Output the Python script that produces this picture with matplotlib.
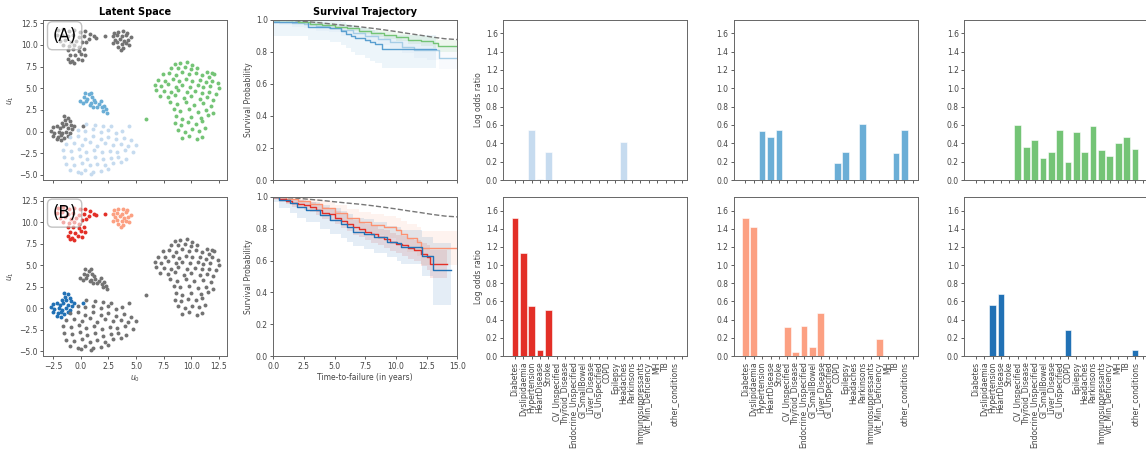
import numpy as np
import matplotlib
matplotlib.use("Agg")
import matplotlib.pyplot as plt

# ---- latent space clusters (u0, u1), same embedding in both rows ----
pts_topleft = [(-2.1, 11.7), (-1.6, 11.8), (-1.1, 11.6), (-0.6, 11.7), (-0.1, 11.5), (0.4, 11.6), (0.8, 11.3),
               (1.2, 11.0), (1.4, 10.8), (-2.2, 11.1), (-1.7, 11.2), (-1.2, 11.0), (-0.7, 11.1), (-0.2, 10.9),
               (0.3, 11.0), (0.7, 10.7), (-1.9, 10.5), (-1.4, 10.6), (-0.9, 10.4), (-0.4, 10.5), (0.1, 10.3),
               (0.5, 10.4), (-1.6, 10.0), (-1.1, 9.9), (-0.6, 10.0), (-0.2, 9.8), (-1.2, 9.4), (-0.7, 9.5),
               (-0.2, 9.3), (0.3, 9.5), (-1.0, 8.9), (-0.5, 8.8), (0.0, 9.0), (0.4, 8.9), (-1.2, 8.4),
               (-0.8, 8.2), (-0.3, 8.4), (0.1, 8.3), (-1.0, 8.0), (-0.6, 7.9), (2.2, 11.0)]
pts_topmid = [(3.0, 11.4), (3.4, 11.5), (3.8, 11.6), (4.2, 11.4), (2.9, 11.0), (3.3, 11.1), (3.7, 11.0),
              (4.1, 11.2), (4.5, 10.9), (3.1, 10.6), (3.5, 10.7), (3.9, 10.5), (4.3, 10.6), (2.9, 10.2),
              (3.3, 10.3), (3.7, 10.1), (4.1, 10.2), (3.4, 9.8), (3.8, 9.7), (4.4, 10.0), (3.6, 9.4)]
pts_leftmid = [(-1.5, 1.8), (-1.2, 1.6), (-1.4, 1.3), (-1.0, 1.2), (-1.7, 1.0), (-1.3, 0.9), (-0.9, 0.8),
               (-2.5, 0.5), (-2.2, 0.6), (-1.9, 0.4), (-1.6, 0.6), (-1.2, 0.4), (-0.8, 0.3), (-2.7, 0.1),
               (-2.4, -0.1), (-2.0, 0.0), (-1.7, -0.2), (-1.3, 0.0), (-1.0, -0.2), (-2.5, -0.5), (-2.1, -0.6),
               (-1.8, -0.4), (-1.5, -0.7), (-1.2, -0.5), (-2.2, -0.9), (-1.8, -1.0), (-0.6, 0.6), (0.2, 0.6)]
pts_small = [(0.4, 4.5), (0.7, 4.3), (0.9, 4.5), (0.3, 4.0), (0.6, 3.8), (1.0, 4.0), (1.2, 3.7), (-0.1, 3.5),
             (0.2, 3.3), (0.5, 3.5), (0.9, 3.3), (1.3, 3.4), (1.6, 3.2), (1.8, 3.5), (1.5, 2.9), (1.9, 2.8),
             (2.1, 3.0), (2.3, 2.6), (2.0, 2.4), (2.4, 2.2), (0.8, 3.1), (1.1, 2.9)]
pts_blob = [(0.5, 0.9), (1.3, 0.8), (2.0, 0.7), (2.7, 0.6), (4.4, 0.65), (-0.3, 0.2), (0.4, 0.1), (1.1, 0.3),
            (1.8, 0.0), (2.5, 0.2), (3.2, -0.1), (3.7, 0.1), (-1.0, -0.6), (-0.3, -0.5), (0.4, -0.8),
            (1.1, -0.5), (1.8, -0.8), (2.5, -0.6), (3.2, -0.9), (3.9, -0.7), (4.5, -1.0), (-1.3, -1.4),
            (-0.6, -1.3), (0.1, -1.5), (0.8, -1.2), (1.5, -1.6), (2.2, -1.3), (2.9, -1.5), (3.6, -1.4),
            (4.3, -1.6), (5.0, -1.5), (-1.6, -2.1), (-0.9, -2.2), (-0.2, -2.0), (0.5, -2.3), (1.2, -2.1),
            (1.9, -2.4), (2.6, -2.2), (3.3, -2.3), (4.0, -2.1), (4.7, -2.4), (-1.5, -2.9), (-0.8, -3.0),
            (-0.1, -2.8), (0.6, -3.1), (1.3, -2.9), (2.0, -3.2), (2.7, -3.0), (3.4, -2.9), (4.1, -3.1),
            (-1.3, -3.7), (-0.6, -3.8), (0.1, -3.6), (0.8, -3.9), (1.5, -3.7), (2.2, -3.9), (2.9, -3.6),
            (3.6, -3.5), (-1.0, -4.4), (-0.3, -4.6), (0.4, -4.4), (1.1, -4.7), (1.8, -4.5), (2.5, -4.3),
            (0.0, -4.8), (0.9, -4.9)]
pts_right = [(8.5, 7.8), (9.0, 7.9), (9.6, 8.0), (10.1, 7.7), (8.2, 7.3), (8.8, 7.4), (9.4, 7.5), (10.0, 7.2),
             (10.5, 7.4), (11.4, 6.9), (11.9, 6.8), (7.4, 6.6), (8.0, 6.8), (8.6, 6.5), (9.2, 6.9), (9.8, 6.6),
             (10.4, 6.8), (11.0, 6.5), (11.6, 6.3), (12.1, 6.6), (7.0, 6.0), (7.6, 5.9), (8.3, 6.1), (8.9, 5.8),
             (9.5, 6.1), (10.1, 5.9), (10.8, 6.0), (11.3, 5.7), (11.9, 5.9), (12.4, 5.6), (6.7, 5.4), (7.3, 5.3),
             (7.9, 5.5), (8.6, 5.2), (9.2, 5.4), (9.9, 5.2), (10.6, 5.4), (11.1, 5.1), (11.7, 5.3), (12.5, 5.0),
             (6.8, 4.8), (7.5, 4.7), (8.2, 4.6), (8.8, 4.8), (9.6, 4.6), (10.3, 4.7), (11.0, 4.5), (11.6, 4.6),
             (12.2, 4.4), (7.2, 4.1), (7.9, 4.0), (8.5, 4.2), (9.3, 3.9), (10.0, 4.1), (10.8, 3.8), (11.4, 4.0),
             (12.0, 3.7), (8.1, 3.4), (8.7, 3.2), (9.5, 3.4), (10.2, 3.1), (11.1, 3.3), (11.8, 3.0), (8.4, 2.6),
             (9.0, 2.4), (9.8, 2.6), (10.6, 2.3), (11.3, 2.5), (12.0, 2.2), (8.6, 1.8), (9.2, 1.5), (10.0, 1.7),
             (10.9, 1.6), (11.5, 1.9), (8.5, 1.0), (9.1, 0.8), (9.7, 1.1), (10.4, 0.9), (11.0, 1.2), (8.8, 0.2),
             (9.4, 0.0), (10.1, 0.3), (10.7, 0.1), (11.2, 0.4), (9.2, -0.7), (9.8, -0.5), (10.5, -0.8),
             (11.0, -0.6), (5.9, 1.5)]

GRAY = '#737373'
LB, MB, GREEN = '#c6dbef', '#6baed6', '#74c476'
RED, SALMON, DB = '#e32f27', '#fca082', '#2171b5'

colors_A = [GRAY, GRAY, GRAY, MB, LB, GREEN]
colors_B = [RED, SALMON, DB, GRAY, GRAY, GRAY]

# ---- survival curves (years, probability, lower, upper) ----
t_ref = [0, 1, 2, 3, 4, 5, 6, 7, 8, 9, 10, 11, 12, 13, 14, 15]
s_ref = [1.0, 0.997, 0.992, 0.985, 0.978, 0.97, 0.962, 0.955, 0.946, 0.936, 0.925, 0.913, 0.902, 0.89, 0.88, 0.875]

t_lb = [0, 0.5, 1.5, 2.5, 3.5, 4.5, 5.5, 6.5, 7.5, 8.5, 9.5, 10.5, 11.5, 12.5, 13.5, 15.0]
s_lb = [0.99, 0.985, 0.98, 0.97, 0.96, 0.95, 0.935, 0.915, 0.9, 0.88, 0.86, 0.83, 0.81, 0.81, 0.76, 0.76]
lo_lb = [0.97, 0.965, 0.955, 0.945, 0.93, 0.92, 0.9, 0.88, 0.86, 0.84, 0.82, 0.79, 0.76, 0.75, 0.69, 0.69]
hi_lb = [1.0, 1.0, 1.0, 0.99, 0.985, 0.975, 0.965, 0.95, 0.935, 0.92, 0.9, 0.875, 0.86, 0.86, 0.83, 0.83]

t_mb = [0, 2.8, 4.6, 5.5, 5.9, 6.3, 6.7, 7.5, 7.9, 8.3, 8.9, 13.3]
s_mb = [0.985, 0.955, 0.95, 0.93, 0.91, 0.9, 0.885, 0.87, 0.86, 0.85, 0.815, 0.815]
lo_mb = [0.90, 0.87, 0.86, 0.84, 0.82, 0.80, 0.78, 0.76, 0.74, 0.73, 0.70, 0.70]
hi_mb = [1.0, 1.0, 0.995, 0.985, 0.975, 0.965, 0.955, 0.945, 0.935, 0.925, 0.905, 0.905]

t_g = [0, 1, 2, 3, 4, 5, 6, 7, 8, 9, 10, 11, 12, 13, 13.4, 15]
s_g = [1.0, 0.995, 0.985, 0.975, 0.965, 0.955, 0.945, 0.93, 0.915, 0.905, 0.89, 0.875, 0.865, 0.855, 0.835, 0.835]
lo_g = [0.995, 0.985, 0.975, 0.962, 0.95, 0.938, 0.926, 0.91, 0.893, 0.88, 0.864, 0.847, 0.835, 0.822, 0.8, 0.8]
hi_g = [1.0, 1.0, 0.995, 0.988, 0.98, 0.972, 0.964, 0.95, 0.937, 0.93, 0.916, 0.903, 0.895, 0.888, 0.87, 0.87]

t_r = [0, 0.5, 1.0, 1.5, 2.0, 2.5, 3.0, 3.5, 4.0, 4.5, 5.0, 5.5, 6.0, 6.5, 7.0, 7.5, 8.0, 8.5, 9.0, 9.5,
       10.0, 10.5, 11.0, 11.5, 12.0, 12.5, 12.8, 14.2]
s_r = [1.0, 0.985, 0.975, 0.965, 0.958, 0.95, 0.94, 0.92, 0.9, 0.89, 0.87, 0.85, 0.83, 0.81, 0.8, 0.78,
       0.765, 0.75, 0.735, 0.72, 0.705, 0.695, 0.68, 0.665, 0.64, 0.62, 0.577, 0.577]
lo_r = [0.99, 0.97, 0.955, 0.94, 0.93, 0.92, 0.905, 0.885, 0.86, 0.85, 0.83, 0.805, 0.785, 0.76, 0.75, 0.73,
        0.71, 0.695, 0.68, 0.66, 0.645, 0.63, 0.61, 0.595, 0.565, 0.54, 0.49, 0.49]
hi_r = [1.0, 1.0, 0.99, 0.985, 0.98, 0.975, 0.97, 0.955, 0.935, 0.925, 0.91, 0.89, 0.87, 0.855, 0.845, 0.83,
        0.815, 0.8, 0.79, 0.775, 0.76, 0.755, 0.745, 0.73, 0.71, 0.695, 0.665, 0.665]

t_s = [0, 1.0, 2.0, 3.0, 4.0, 5.0, 6.0, 7.0, 8.0, 9.0, 10.0, 10.4, 10.9, 11.7, 12.05, 15.0]
s_s = [1.0, 0.99, 0.975, 0.955, 0.93, 0.9, 0.87, 0.845, 0.825, 0.81, 0.795, 0.77, 0.74, 0.72, 0.68, 0.68]
lo_s = [0.98, 0.965, 0.94, 0.915, 0.885, 0.85, 0.815, 0.785, 0.76, 0.74, 0.72, 0.69, 0.655, 0.63, 0.57, 0.57]
hi_s = [1.0, 1.0, 1.0, 0.99, 0.975, 0.95, 0.925, 0.905, 0.89, 0.88, 0.87, 0.85, 0.83, 0.81, 0.785, 0.785]

t_d = [0, 0.5, 1.4, 1.9, 2.7, 3.8, 4.6, 5.5, 6.0, 6.5, 7.4, 8.2, 9.3, 10.1, 10.4, 12.1, 13.0, 14.5]
s_d = [1.0, 0.98, 0.96, 0.94, 0.916, 0.885, 0.858, 0.83, 0.81, 0.78, 0.77, 0.75, 0.72, 0.71, 0.686, 0.63, 0.54, 0.54]
lo_d = [0.97, 0.93, 0.9, 0.87, 0.84, 0.8, 0.77, 0.74, 0.72, 0.69, 0.67, 0.65, 0.62, 0.6, 0.58, 0.5, 0.32, 0.32]
hi_d = [1.0, 1.0, 0.99, 0.98, 0.97, 0.95, 0.93, 0.91, 0.89, 0.87, 0.86, 0.84, 0.82, 0.81, 0.79, 0.75, 0.71, 0.71]

curves_A = [(t_lb, s_lb, lo_lb, hi_lb, LB, '#a6cde6'), (t_mb, s_mb, lo_mb, hi_mb, MB, '#5a9fd0'),
            (t_g, s_g, lo_g, hi_g, GREEN, '#74c476')]
curves_B = [(t_s, s_s, lo_s, hi_s, SALMON, '#fc9272'), (t_r, s_r, lo_r, hi_r, RED, RED),
            (t_d, s_d, lo_d, hi_d, DB, DB)]

# ---- log odds ratio per condition ----
conditions = ['Diabetes', 'Dyslipidaemia', 'Hypertension', 'HeartDisease', 'Stroke', 'CV_Unspecified',
              'Thyroid_Disease', 'Endocrine_Unspecified', 'GI_SmallBowel', 'Liver_Disease', 'GI_Unspecified',
              'COPD', 'Epilepsy', 'Headaches', 'Parkinsons', 'Immunosuppressants', 'Vit_Min_Deficiency',
              'MH', 'TB', 'other_conditions', '']
odds_lb = [0, 0, 0.55, 0.01, 0.31, 0, 0, 0, 0, 0, 0.005, 0, 0, 0.41, 0, 0, 0, 0, 0, 0, 0]
odds_mb = [0, 0, 0.535, 0.47, 0.55, 0, 0, 0, 0, 0, 0, 0.18, 0.30, 0, 0.61, 0, 0, 0, 0.29, 0.55, 0]
odds_g = [0, 0, 0, 0, 0, 0.60, 0.36, 0.44, 0.24, 0.31, 0.55, 0.20, 0.52, 0.31, 0.59, 0.33, 0.26, 0.40,
          0.47, 0.34, 0]
odds_r = [1.52, 1.13, 0.55, 0.066, 0.51, 0, 0, 0, 0, 0, 0, 0, 0, 0, 0, 0, 0, 0, 0, 0, 0]
odds_s = [1.52, 1.42, 0, 0, 0, 0.32, 0.044, 0.33, 0.095, 0.47, 0, 0, 0, 0, 0, 0, 0.19, 0, 0, 0, 0]
odds_d = [0, 0, 0.56, 0.68, 0, 0, 0, 0, 0, 0, 0, 0.29, 0, 0, 0, 0, 0, 0, 0, 0.066, 0]

plt.rcParams['font.family'] = 'DejaVu Sans'
plt.rcParams['axes.edgecolor'] = '#666666'
plt.rcParams['axes.linewidth'] = 0.7
plt.rcParams['xtick.color'] = '#444444'
plt.rcParams['ytick.color'] = '#444444'
plt.rcParams['axes.labelcolor'] = '#444444'

fig = plt.figure(figsize=(11.46, 4.54), dpi=100)
W, H = 1146.0, 454.0
col_left = [43.3, 273.3, 503.3, 733.7, 964.3]
row_top = [(19.5, 180.0), (197.0, 356.0)]


def make_ax(col, row):
    top, bot = row_top[row]
    ax = fig.add_axes([col_left[col] / W, 1 - bot / H, 184 / W, (bot - top) / H])
    ax.tick_params(labelsize=5.5, length=2.5, width=0.6, pad=1.5)
    return ax


clusters = [pts_topleft, pts_topmid, pts_leftmid, pts_small, pts_blob, pts_right]

for row, (cols, tag) in enumerate([(colors_A, '(A)'), (colors_B, '(B)')]):
    ax = make_ax(0, row)
    for pts, c in zip(clusters, cols):
        p = np.array(pts)
        ax.scatter(p[:, 0], p[:, 1], s=8, color=c, linewidths=0)
    ax.set_xlim(-3.4, 13.26)
    ax.set_ylim(-5.58, 12.94)
    ax.set_xticks([-2.5, 0, 2.5, 5, 7.5, 10, 12.5])
    ax.set_yticks([-5, -2.5, 0, 2.5, 5, 7.5, 10, 12.5])
    ax.set_ylabel(r'$u_1$', fontsize=5.5, labelpad=2)
    ax.text(0.05, 0.955, tag, transform=ax.transAxes, fontsize=12, va='top', ha='left', zorder=5,
            bbox=dict(boxstyle='round,pad=0.3', facecolor='white', alpha=0.6, edgecolor='#999999'))
    if row == 0:
        ax.set_title('Latent Space', fontsize=7, fontweight='bold', pad=3)
        ax.tick_params(labelbottom=False)
    else:
        ax.set_xlabel(r'$u_0$', fontsize=5.5, labelpad=2)

for row, curves in enumerate([curves_A, curves_B]):
    ax = make_ax(1, row)
    for t, s, lo, hi, band_c, line_c in curves:
        ax.fill_between(t, lo, hi, step='post', color=band_c, alpha=0.12, linewidth=0)
    for t, s, lo, hi, band_c, line_c in curves:
        ax.step(t, s, where='post', color=line_c, linewidth=1.0)
    ax.plot(t_ref, s_ref, color='#777777', linestyle='--', linewidth=1.0)
    ax.set_xlim(0, 15)
    ax.set_ylim(0, 1)
    ax.set_xticks([0, 2.5, 5, 7.5, 10, 12.5, 15])
    ax.set_yticks([0, 0.2, 0.4, 0.6, 0.8, 1.0])
    ax.set_ylabel('Survival Probability', fontsize=5.5, labelpad=2)
    if row == 0:
        ax.set_title('Survival Trajectory', fontsize=7, fontweight='bold', pad=3)
        ax.tick_params(labelbottom=False)
    else:
        ax.set_xlabel('Time-to-failure (in years)', fontsize=5.5, labelpad=2)

bar_sets = [[(odds_lb, LB), (odds_mb, MB), (odds_g, GREEN)],
            [(odds_r, RED), (odds_s, SALMON), (odds_d, DB)]]
xpos = np.arange(len(conditions))
for row in range(2):
    for i, (vals, c) in enumerate(bar_sets[row]):
        ax = make_ax(2 + i, row)
        ax.bar(xpos, vals, width=0.8, color=c, edgecolor='white', linewidth=0.4)
        ax.set_xlim(-1.4, 20.6)
        ax.set_ylim(0, 1.75)
        ax.set_yticks([0, 0.2, 0.4, 0.6, 0.8, 1.0, 1.2, 1.4, 1.6])
        ax.set_xticks(xpos)
        ax.set_xticklabels(conditions, rotation=90, fontsize=5.5)
        if i == 0:
            ax.set_ylabel('Log odds ratio', fontsize=5.5, labelpad=2)
        if row == 0:
            ax.tick_params(labelbottom=False)

fig.savefig('out.png', dpi=100)
